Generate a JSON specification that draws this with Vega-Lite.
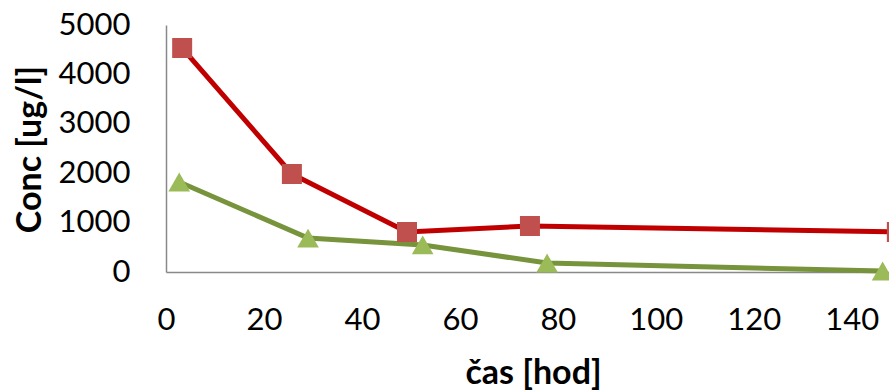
{
  "$schema": "https://vega.github.io/schema/vega-lite/v6.json",
  "autosize": "none",
  "width": 723,
  "height": 247,
  "padding": {"left": 166, "top": 25, "right": 0, "bottom": 120},
  "background": "white",
  "config": {
    "view": {"stroke": null},
    "font": "Lato",
    "axis": {
      "labelFont": "Lato",
      "labelFontSize": 31,
      "labelColor": "#000000",
      "titleFont": "Lato",
      "titleFontSize": 34,
      "titleFontWeight": "bold",
      "titleColor": "#000000",
      "grid": false,
      "ticks": false,
      "domainColor": "#898989",
      "domainWidth": 1.5
    }
  },
  "data": {
    "values": [
      {"series": "A", "t": 3.3, "c": 4534},
      {"series": "A", "t": 25.7, "c": 1984},
      {"series": "A", "t": 49.2, "c": 810},
      {"series": "A", "t": 74.3, "c": 931},
      {"series": "A", "t": 149.2, "c": 810},
      {"series": "B", "t": 2.7, "c": 1822},
      {"series": "B", "t": 29.0, "c": 688},
      {"series": "B", "t": 52.4, "c": 547},
      {"series": "B", "t": 77.8, "c": 182},
      {"series": "B", "t": 146.3, "c": 20}
    ]
  },
  "encoding": {
    "x": {
      "field": "t",
      "type": "quantitative",
      "scale": {"domain": [0, 147.6], "nice": false, "zero": false},
      "axis": {
        "title": "čas [hod]",
        "values": [0, 20, 40, 60, 80, 100, 120, 140],
        "format": "d",
        "labelPadding": 33,
        "labelFlush": false,
        "titleX": 367,
        "titleY": 111,
        "titleBaseline": "alphabetic",
        "titleAnchor": null
      }
    },
    "y": {
      "field": "c",
      "type": "quantitative",
      "scale": {"domain": [0, 5000], "nice": false},
      "axis": {
        "title": "Conc [ug/l]",
        "values": [0, 1000, 2000, 3000, 4000, 5000],
        "format": "d",
        "labelPadding": 36,
        "labelFlush": false,
        "titleX": -126,
        "titleY": 124,
        "titleBaseline": "alphabetic",
        "titleAngle": -90
      }
    }
  },
  "layer": [
    {
      "mark": {"type": "line", "strokeWidth": 5, "clip": false},
      "encoding": {
        "color": {
          "field": "series",
          "type": "nominal",
          "scale": {"domain": ["B", "A"], "range": ["#77933C", "#C00000"]},
          "legend": null
        },
        "order": {"field": "t", "type": "quantitative"}
      }
    },
    {
      "transform": [{"filter": "datum.series === 'A'"}],
      "mark": {"type": "point", "shape": "square", "size": 400, "filled": true, "opacity": 1, "color": "#C0504D", "clip": false}
    },
    {
      "transform": [{"filter": "datum.series === 'B'"}],
      "mark": {"type": "point", "shape": "triangle-up", "size": 470, "filled": true, "opacity": 1, "color": "#9BBB59", "clip": false}
    }
  ]
}
